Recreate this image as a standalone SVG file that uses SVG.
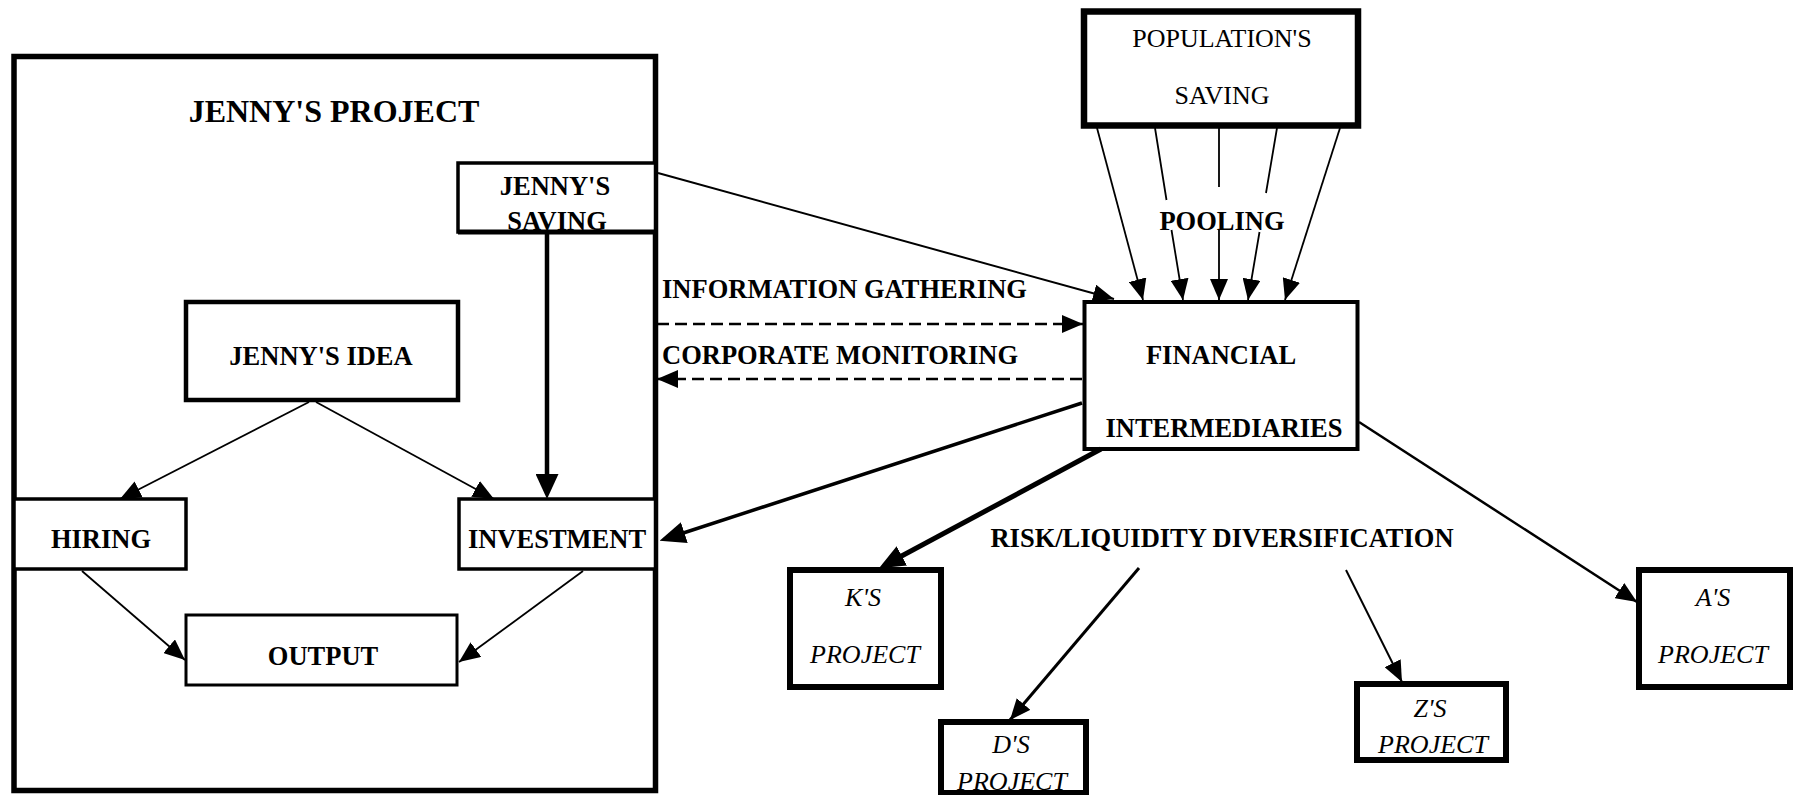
<svg xmlns="http://www.w3.org/2000/svg" width="1793" height="795" viewBox="0 0 1793 795">
<style>
text{font-family:"Liberation Serif","Times New Roman",serif;font-size:26px;fill:#000;text-anchor:middle}
.b{font-weight:bold;font-size:26.5px}
.i{font-style:italic}
.l{text-anchor:start}
.box{fill:#fff;stroke:#000}
.c{fill:none;stroke:#000}
.dash{stroke-dasharray:12,6}
</style>
<defs>
<marker id="ah" markerUnits="userSpaceOnUse" markerWidth="21" markerHeight="18" refX="21" refY="9" orient="auto"><path d="M0,0 L21,9 L0,18 z" fill="#000"/></marker>
<marker id="ahT" markerUnits="userSpaceOnUse" markerWidth="26" markerHeight="22" refX="14" refY="11" orient="auto"><path d="M0,0 L26,11 L0,22 z" fill="#000"/></marker>
<marker id="ahB" markerUnits="userSpaceOnUse" markerWidth="25" markerHeight="23" refX="15" refY="11.5" orient="auto"><path d="M0,0 L25,11.5 L0,23 z" fill="#000"/></marker>
</defs>
<rect width="1793" height="795" fill="#fff"/>

<g id="jennys-project">
<rect class="box" x="14" y="56.5" width="641.5" height="734" stroke-width="5.5"/>
<text class="b" x="334" y="122" style="font-size:32px">JENNY'S PROJECT</text>
</g>
<g id="jennys-saving">
<rect class="box" x="458" y="163" width="197.5" height="69" stroke-width="3.5"/>
<line x1="458" y1="232" x2="655" y2="232" stroke="#000" stroke-width="5"/>
<text class="b" x="555" y="195">JENNY'S</text>
<text class="b" x="557" y="230">SAVING</text>
</g>
<g id="jennys-idea">
<rect class="box" x="186" y="302" width="272" height="98" stroke-width="4.5"/>
<text class="b" x="321" y="365">JENNY'S IDEA</text>
</g>
<g id="hiring">
<rect class="box" x="14" y="499" width="172" height="70" stroke-width="3.5"/>
<text class="b" x="101" y="548">HIRING</text>
</g>
<g id="investment">
<rect class="box" x="459" y="499" width="196.5" height="70" stroke-width="3.5"/>
<text class="b" x="557" y="548">INVESTMENT</text>
</g>
<g id="output">
<rect class="box" x="186" y="615" width="271" height="70" stroke-width="3"/>
<text class="b" x="323" y="665">OUTPUT</text>
</g>
<g id="populations-saving">
<rect class="box" x="1084" y="11.5" width="274" height="114" stroke-width="6.5"/>
<text x="1222" y="47">POPULATION'S</text>
<text x="1222" y="104">SAVING</text>
</g>
<g id="financial-intermediaries">
<rect class="box" x="1084.5" y="302" width="273" height="147" stroke-width="4"/>
<text class="b" x="1221" y="364">FINANCIAL</text>
<text class="b" x="1224" y="437">INTERMEDIARIES</text>
</g>
<g id="ks-project">
<rect class="box" x="790" y="570" width="151" height="117" stroke-width="6"/>
<text class="i" x="863" y="606">K'S</text>
<text class="i" x="865" y="663">PROJECT</text>
</g>
<g id="ds-project">
<rect class="box" x="941" y="722" width="145" height="71" stroke-width="6"/>
<text class="i" x="1011" y="753">D'S</text>
<text class="i" x="1012" y="790">PROJECT</text>
</g>
<g id="zs-project">
<rect class="box" x="1357" y="684" width="149" height="76" stroke-width="6"/>
<text class="i" x="1430" y="717">Z'S</text>
<text class="i" x="1433" y="753">PROJECT</text>
</g>
<g id="as-project">
<rect class="box" x="1639" y="570" width="151" height="117" stroke-width="6"/>
<text class="i" x="1713" y="606">A'S</text>
<text class="i" x="1713" y="663">PROJECT</text>
</g>

<g id="labels">
<text class="b l" x="662" y="298">INFORMATION GATHERING</text>
<text class="b l" x="662" y="364">CORPORATE MONITORING</text>
<text class="b" x="1222" y="230">POOLING</text>
<text class="b" x="1222" y="547">RISK/LIQUIDITY DIVERSIFICATION</text>
</g>

<g id="connectors">
<line class="c" x1="309" y1="402" x2="120" y2="499" stroke-width="1.8" marker-end="url(#ah)"/>
<line class="c" x1="316" y1="402" x2="494" y2="499" stroke-width="1.8" marker-end="url(#ah)"/>
<line class="c" x1="547" y1="234" x2="547" y2="489" stroke-width="4.5" marker-end="url(#ahB)"/>
<line class="c" x1="82" y1="571" x2="185" y2="660" stroke-width="1.8" marker-end="url(#ah)"/>
<line class="c" x1="583" y1="571" x2="459" y2="662" stroke-width="1.8" marker-end="url(#ah)"/>
<line class="c" x1="658" y1="173" x2="1114" y2="299" stroke-width="2" marker-end="url(#ah)"/>
<line class="c dash" x1="657" y1="324" x2="1083" y2="324" stroke-width="2.5" marker-end="url(#ah)"/>
<line class="c dash" x1="1082" y1="379" x2="657" y2="379" stroke-width="2.5" marker-end="url(#ah)"/>
<line class="c" x1="1082" y1="403" x2="671" y2="537" stroke-width="3.5" marker-end="url(#ahT)"/>
<line class="c" x1="1097" y1="128" x2="1143" y2="300" stroke-width="1.8" marker-end="url(#ah)"/>
<path class="c" d="M1155,128 L1166.5,200 M1171.5,230 L1183,300" stroke-width="1.8" marker-end="url(#ah)"/>
<path class="c" d="M1219,128 L1219,187 M1219,230 L1219,300" stroke-width="1.8" marker-end="url(#ah)"/>
<path class="c" d="M1277,128 L1266,193 M1259.5,232 L1248,300" stroke-width="1.8" marker-end="url(#ah)"/>
<line class="c" x1="1340" y1="128" x2="1285" y2="300" stroke-width="1.8" marker-end="url(#ah)"/>
<line class="c" x1="1101" y1="449" x2="889.5" y2="562.5" stroke-width="5" marker-end="url(#ahT)"/>
<line class="c" x1="1139" y1="568" x2="1010" y2="720" stroke-width="3" marker-end="url(#ah)"/>
<line class="c" x1="1346" y1="570" x2="1402" y2="682" stroke-width="2" marker-end="url(#ah)"/>
<line class="c" x1="1359" y1="422" x2="1637" y2="602" stroke-width="2.5" marker-end="url(#ah)"/>
</g>
</svg>
